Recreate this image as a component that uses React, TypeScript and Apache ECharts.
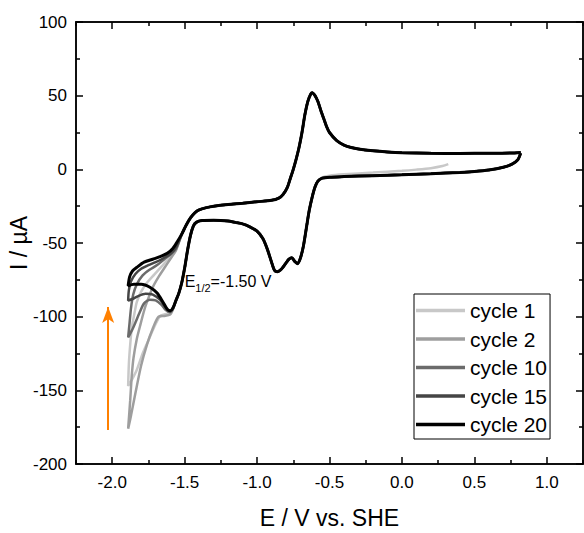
import React, { useEffect, useRef } from "react";
import * as echarts from "echarts";

// ---- tick values ----
const xMajorTicks = [-2, -1.5, -1, -0.5, 0, 0.5, 1];
const xMinorTicks = [-2.25, -1.75, -1.25, -0.75, -0.25, 0.25, 0.75, 1.25];
const yMajorTicks = [-200, -150, -100, -50, 0, 50, 100];
const yMinorTicks = [-175, -125, -75, -25, 25, 75];

// ---- legend / series names ----
const cycleNames = ["cycle 1", "cycle 2", "cycle 10", "cycle 15", "cycle 20"];

// ---- data segments [E (V), I (uA)] ----
// cathodic scan from the positive vertex, before the first wave (cycles 2-20)
const cathodicStart = [
  [0.82, 11], [0.8, 6.5], [0.76, 3.5], [0.7, 1.4], [0.6, -0.5], [0.5, -1.5],
  [0.4, -2.1], [0.2, -3.0], [0.0, -3.7], [-0.2, -4.3], [-0.4, -4.9], [-0.5, -5.3], [-0.55, -6.0],
];
// cycle 1 starts at open circuit
const cycle1Start = [
  [0.32, 3.5], [0.28, 2.2], [0.2, 0.8], [0.1, -0.2], [0.0, -1.0], [-0.2, -2.2],
  [-0.4, -3.4], [-0.5, -4.3], [-0.55, -5.5],
];
// common reduction waves
const cathodicWaves = [
  [-0.58, -8], [-0.6, -12], [-0.62, -19], [-0.64, -28], [-0.66, -40], [-0.68, -52],
  [-0.7, -60], [-0.72, -64], [-0.74, -62.5], [-0.76, -60], [-0.78, -61], [-0.8, -63.5],
  [-0.83, -67.5], [-0.86, -69.5], [-0.88, -68.5], [-0.9, -63], [-0.93, -54], [-0.96, -47],
  [-1.0, -42], [-1.05, -39], [-1.1, -37], [-1.15, -36], [-1.2, -35], [-1.3, -34.5],
  [-1.38, -34.8], [-1.42, -36], [-1.44, -38.5], [-1.46, -45], [-1.48, -55], [-1.5, -67],
  [-1.52, -77], [-1.54, -84], [-1.56, -89],
];
// negative vertex region, cycle-specific (cathodic to vertex, then anodic back)
const cycle1Tail = [
  [-1.58, -94], [-1.6, -97.5], [-1.64, -98.5], [-1.67, -99.5], [-1.71, -107], [-1.75, -116],
  [-1.79, -125], [-1.83, -136], [-1.86, -142], [-1.89, -147],
  [-1.885, -132], [-1.875, -118], [-1.864, -107], [-1.845, -97], [-1.83, -90], [-1.8, -83],
  [-1.76, -77], [-1.71, -71.5], [-1.66, -66], [-1.61, -60.5], [-1.56, -54.5],
];
const cycle2Tail = [
  [-1.58, -95], [-1.6, -98.5], [-1.64, -99.5], [-1.68, -100], [-1.72, -108], [-1.76, -119],
  [-1.8, -133], [-1.84, -152], [-1.87, -167], [-1.89, -176],
  [-1.876, -157], [-1.865, -140], [-1.853, -128], [-1.83, -115], [-1.807, -106], [-1.78, -96],
  [-1.76, -90], [-1.72, -80], [-1.68, -73], [-1.64, -67], [-1.6, -61], [-1.56, -55],
];
const cycle10Tail = [
  [-1.58, -94.5], [-1.6, -97], [-1.63, -95.5], [-1.66, -92], [-1.7, -89], [-1.74, -88.5],
  [-1.78, -91], [-1.81, -97], [-1.84, -104], [-1.865, -109.5], [-1.89, -114],
  [-1.88, -104], [-1.87, -94], [-1.855, -85], [-1.83, -78], [-1.79, -72], [-1.74, -68],
  [-1.69, -65], [-1.64, -61], [-1.6, -58], [-1.56, -54],
];
const cycle15Tail = [
  [-1.58, -94], [-1.6, -96.5], [-1.63, -94], [-1.67, -88.5], [-1.72, -85], [-1.77, -84.5],
  [-1.82, -86], [-1.86, -88], [-1.89, -89],
  [-1.885, -82], [-1.87, -76], [-1.84, -71], [-1.8, -67.5], [-1.75, -65], [-1.7, -63],
  [-1.65, -60.5], [-1.6, -57.5], [-1.56, -53],
];
const cycle20Tail = [
  [-1.58, -94], [-1.6, -96], [-1.62, -95], [-1.65, -90], [-1.69, -84], [-1.74, -80],
  [-1.8, -78], [-1.85, -78], [-1.89, -79],
  [-1.88, -73], [-1.86, -69], [-1.83, -66.5], [-1.78, -63], [-1.72, -61], [-1.67, -59.3],
  [-1.62, -57], [-1.58, -53.5], [-1.55, -49],
];
// common anodic return to the positive vertex
const anodicReturn = [
  [-1.52, -44], [-1.49, -38], [-1.46, -33], [-1.43, -29.5], [-1.4, -27.5], [-1.35, -26],
  [-1.3, -25], [-1.2, -23.8], [-1.1, -23], [-1.0, -22], [-0.9, -21], [-0.85, -19.5],
  [-0.82, -17], [-0.79, -12], [-0.77, -6], [-0.75, 0], [-0.73, 7], [-0.71, 15], [-0.69, 25],
  [-0.67, 37], [-0.65, 46], [-0.63, 51], [-0.62, 52], [-0.6, 50], [-0.58, 46], [-0.56, 40],
  [-0.54, 34.5], [-0.52, 29], [-0.5, 25], [-0.45, 19.5], [-0.4, 16.5], [-0.35, 14.8],
  [-0.3, 13.8], [-0.2, 12.6], [-0.1, 11.8], [0.0, 11.3], [0.2, 10.9], [0.4, 10.8],
  [0.6, 10.9], [0.75, 11.1], [0.82, 11.5],
];

// annotation + arrow
const halfWaveLabelAt = [-1.5, -74.5];
const arrowFrom = [-2.028, -177];
const arrowTo = [-2.028, -93.5];

const cycleColors = ["#c8c8c8", "#9e9e9e", "#6b6b6b", "#454545", "#000000"];
const cycleWidths = [2.5, 2.5, 2.5, 2.5, 3];

const FONT = "'Liberation Sans', Arial, Helvetica, sans-serif";

function makeX(position: string, ticks: number[], len: number, labels: boolean, extra: any = {}) {
  return {
    type: "value",
    position,
    min: -2.25,
    max: 1.25,
    axisLine: { show: true, onZero: false, lineStyle: { color: "#000", width: 1.5 } },
    axisTick: { show: true, inside: true, length: len, customValues: ticks, lineStyle: { color: "#000", width: 1.5 } },
    axisLabel: labels
      ? { show: true, customValues: ticks, formatter: (v: number) => v.toFixed(1), color: "#000", fontSize: 17, fontFamily: FONT, margin: 10 }
      : { show: false },
    splitLine: { show: false },
    ...extra,
  };
}
function makeY(position: string, ticks: number[], len: number, labels: boolean, extra: any = {}) {
  return {
    type: "value",
    position,
    min: -200,
    max: 100,
    axisLine: { show: true, onZero: false, lineStyle: { color: "#000", width: 1.5 } },
    axisTick: { show: true, inside: true, length: len, customValues: ticks, lineStyle: { color: "#000", width: 1.5 } },
    axisLabel: labels
      ? { show: true, customValues: ticks, formatter: (v: number) => String(v), color: "#000", fontSize: 17, fontFamily: FONT, margin: 9 }
      : { show: false },
    splitLine: { show: false },
    ...extra,
  };
}

export default function App() {
  const ref = useRef<HTMLDivElement>(null);
  useEffect(() => {
    document.body.style.margin = "0";
    if (!ref.current) return;
    const chart = echarts.init(ref.current, null, { renderer: "svg" });

    const cycleData = [
      [...cycle1Start, ...cathodicWaves, ...cycle1Tail, ...anodicReturn],
      [...cathodicStart, ...cathodicWaves, ...cycle2Tail, ...anodicReturn],
      [...cathodicStart, ...cathodicWaves, ...cycle10Tail, ...anodicReturn],
      [...cathodicStart, ...cathodicWaves, ...cycle15Tail, ...anodicReturn],
      [...cathodicStart, ...cathodicWaves, ...cycle20Tail, ...anodicReturn],
    ];

    const series: any[] = cycleNames.map((name, i) => ({
      name,
      type: "line",
      data: cycleData[i],
      showSymbol: false,
      symbol: "none",
      smooth: 0.25,
      z: 2 + i,
      lineStyle: { color: cycleColors[i], width: cycleWidths[i] },
      itemStyle: { color: cycleColors[i] },
      emphasis: { disabled: true },
    }));

    series[0].markLine = {
      silent: true,
      symbol: ["none", "arrow"],
      symbolSize: [9, 16],
      label: { show: false },
      lineStyle: { color: "#ff8000", width: 2, type: "solid" },
      data: [[{ coord: arrowFrom }, { coord: arrowTo }]],
    };
    series[4].markPoint = {
      silent: true,
      symbol: "circle",
      symbolSize: 0,
      data: [{ coord: halfWaveLabelAt }],
      label: {
        show: true,
        position: "right",
        distance: 0,
        formatter: "{m|E}{s|1/2}{m|=-1.50 V}",
        rich: {
          m: { fontSize: 16, fontFamily: FONT, color: "#000", lineHeight: 20, verticalAlign: "bottom" },
          s: { fontSize: 11, fontFamily: FONT, color: "#000", lineHeight: 14, verticalAlign: "bottom", padding: [0, 0, -4, 0] },
        },
      },
    };

    chart.setOption({
      animation: false,
      backgroundColor: "#fff",
      textStyle: { fontFamily: FONT },
      grid: { left: 76, right: 1, top: 22, bottom: 69, containLabel: false, outerBoundsMode: "none" },
      legend: {
        data: cycleNames.map((name, i) => ({ name, itemStyle: { color: cycleColors[i] } })),
        orient: "vertical",
        left: 414,
        top: 294,
        icon: "rect",
        itemWidth: 49,
        itemHeight: 3.5,
        itemGap: 7.5,
        padding: [6, 3, 4, 2],
        borderColor: "#000",
        borderWidth: 1,
        selectedMode: false,
        textStyle: { fontSize: 21, color: "#000", fontFamily: FONT, lineHeight: 21 },
      },
      xAxis: [
        makeX("bottom", xMajorTicks, 7, true, {
          name: "E / V vs. SHE",
          nameLocation: "middle",
          nameGap: 42,
          nameMoveOverlap: false,
          nameTextStyle: { fontSize: 23, color: "#000", fontFamily: FONT },
        }),
        makeX("bottom", xMinorTicks, 4, false),
        makeX("top", xMajorTicks, 7, false),
        makeX("top", xMinorTicks, 4, false),
      ],
      yAxis: [
        makeY("left", yMajorTicks, 7, true, {
          name: "I / µA",
          nameLocation: "middle",
          nameGap: 46,
          nameMoveOverlap: false,
          nameTextStyle: { fontSize: 23, color: "#000", fontFamily: FONT },
        }),
        makeY("left", yMinorTicks, 4, false),
        makeY("right", yMajorTicks, 7, false),
        makeY("right", yMinorTicks, 4, false),
      ],
      series,
    });
    return () => chart.dispose();
  }, []);
  return <div ref={ref} style={{ width: 584, height: 533 }} />;
}
